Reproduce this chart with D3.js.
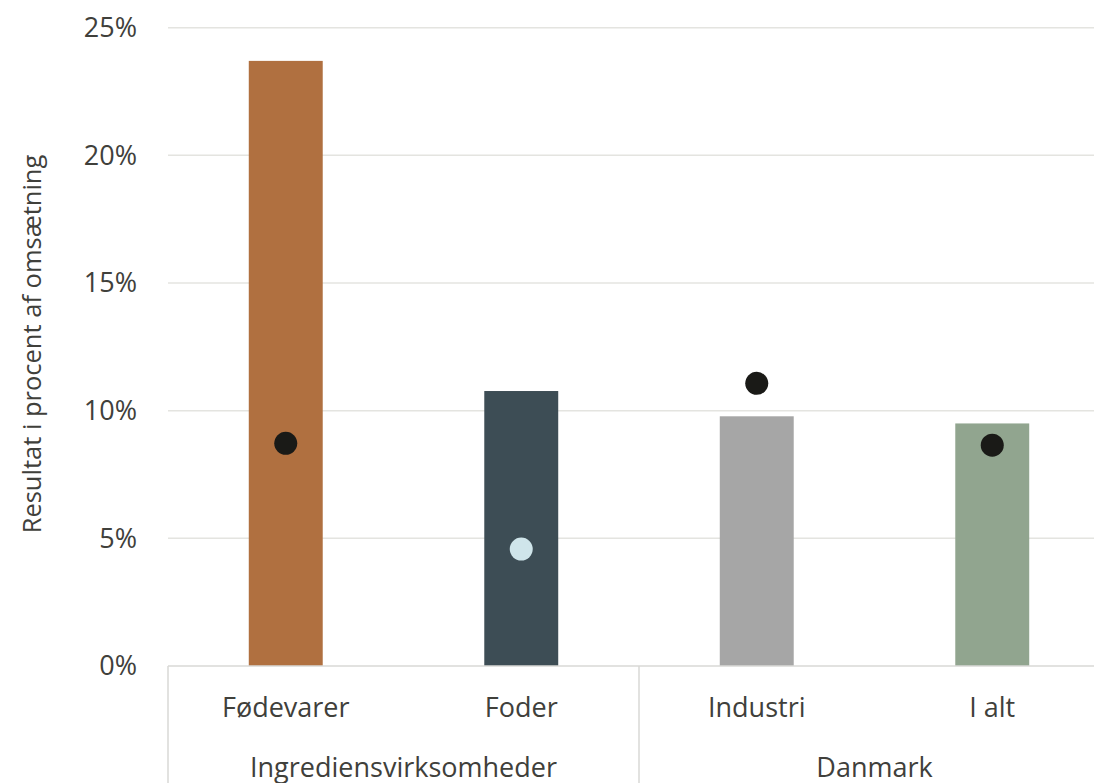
<!DOCTYPE html>
<html>
<head>
<meta charset="utf-8">
<script src="https://cdn.jsdelivr.net/npm/d3@7"></script>
<style>
  html, body { margin: 0; padding: 0; background: #fff; }
  svg { display: block; font-family: "Open Sans", "Noto Sans", sans-serif; }
</style>
</head>
<body>
<svg id="chart" width="1094" height="783"></svg>
<script>
const categories = ["Fødevarer", "Foder", "Industri", "I alt"];
const groups = ["Ingrediensvirksomheder", "Ingrediensvirksomheder", "Danmark", "Danmark"];
const barValues = [0.237, 0.1077, 0.0978, 0.095];
const dotValues = [0.0872, 0.0458, 0.1107, 0.0865];
const barColors = ["#b07040", "#3d4d55", "#a6a6a6", "#91a58f"];
const dotColors = ["#1a1a17", "#cfe5ea", "#1a1a17", "#1a1a17"];
const yTicks = [0, 0.05, 0.10, 0.15, 0.20, 0.25];
const yTitle = "Resultat i procent af omsætning";

const W = 1094, H = 783;
const left = 168, right = 1110, zeroY = 666, topY = 27.7;
const textCol = "#40403b";
const fs = 27;

const svg = d3.select("#chart");

const x = d3.scaleBand()
  .domain(categories)
  .range([left, right])
  .paddingInner(0.686)
  .paddingOuter(0.343);

const y = d3.scaleLinear().domain([0, 0.25]).range([zeroY, topY]);

// gridlines
svg.append("g")
  .selectAll("line")
  .data(yTicks.slice(1))
  .join("line")
  .attr("x1", left).attr("x2", W)
  .attr("y1", d => y(d)).attr("y2", d => y(d))
  .attr("stroke", "#e4e4e0").attr("stroke-width", 1.5);

// y tick labels
svg.append("g")
  .selectAll("text")
  .data(yTicks)
  .join("text")
  .attr("x", 137)
  .attr("y", d => y(d))
  .attr("dy", "0.35em")
  .attr("text-anchor", "end")
  .attr("font-size", fs)
  .attr("fill", textCol)
  .text(d => Math.round(d * 100) + "%");

// y title
svg.append("text")
  .attr("transform", `translate(41,${(150 + 538) / 2}) rotate(-90)`)
  .attr("text-anchor", "middle")
  .attr("font-size", 25.5)
  .attr("fill", textCol)
  .text(yTitle);

// bars
svg.append("g")
  .selectAll("rect")
  .data(categories)
  .join("rect")
  .attr("x", d => x(d))
  .attr("width", x.bandwidth())
  .attr("y", (d, i) => y(barValues[i]))
  .attr("height", (d, i) => y(0) - y(barValues[i]))
  .attr("fill", (d, i) => barColors[i]);

// dots
svg.append("g")
  .selectAll("circle")
  .data(categories)
  .join("circle")
  .attr("cx", d => x(d) + x.bandwidth() / 2)
  .attr("cy", (d, i) => y(dotValues[i]))
  .attr("r", 11.5)
  .attr("fill", (d, i) => dotColors[i]);

// x axis line and group dividers
const axisCol = "#d9d9d6";
svg.append("line")
  .attr("x1", left).attr("x2", W)
  .attr("y1", zeroY).attr("y2", zeroY)
  .attr("stroke", axisCol).attr("stroke-width", 1.5);

const groupNames = Array.from(new Set(groups));
const groupSpans = groupNames.map(g => {
  const idx = groups.map((v, i) => v === g ? i : -1).filter(i => i >= 0);
  const step = x.step();
  return { name: g, x0: left + idx[0] * step, x1: left + (idx[idx.length - 1] + 1) * step };
});

svg.append("g")
  .selectAll("line")
  .data(groupSpans.map(d => d.x0))
  .join("line")
  .attr("x1", d => d).attr("x2", d => d)
  .attr("y1", zeroY).attr("y2", H)
  .attr("stroke", axisCol).attr("stroke-width", 1.5);

// category labels
svg.append("g")
  .selectAll("text")
  .data(categories)
  .join("text")
  .attr("x", d => x(d) + x.bandwidth() / 2)
  .attr("y", 717)
  .attr("text-anchor", "middle")
  .attr("font-size", fs)
  .attr("fill", textCol)
  .text(d => d);

// group labels
svg.append("g")
  .selectAll("text")
  .data(groupSpans)
  .join("text")
  .attr("x", d => (d.x0 + d.x1) / 2)
  .attr("y", 777)
  .attr("text-anchor", "middle")
  .attr("font-size", fs)
  .attr("fill", textCol)
  .text(d => d.name);
</script>
</body>
</html>
